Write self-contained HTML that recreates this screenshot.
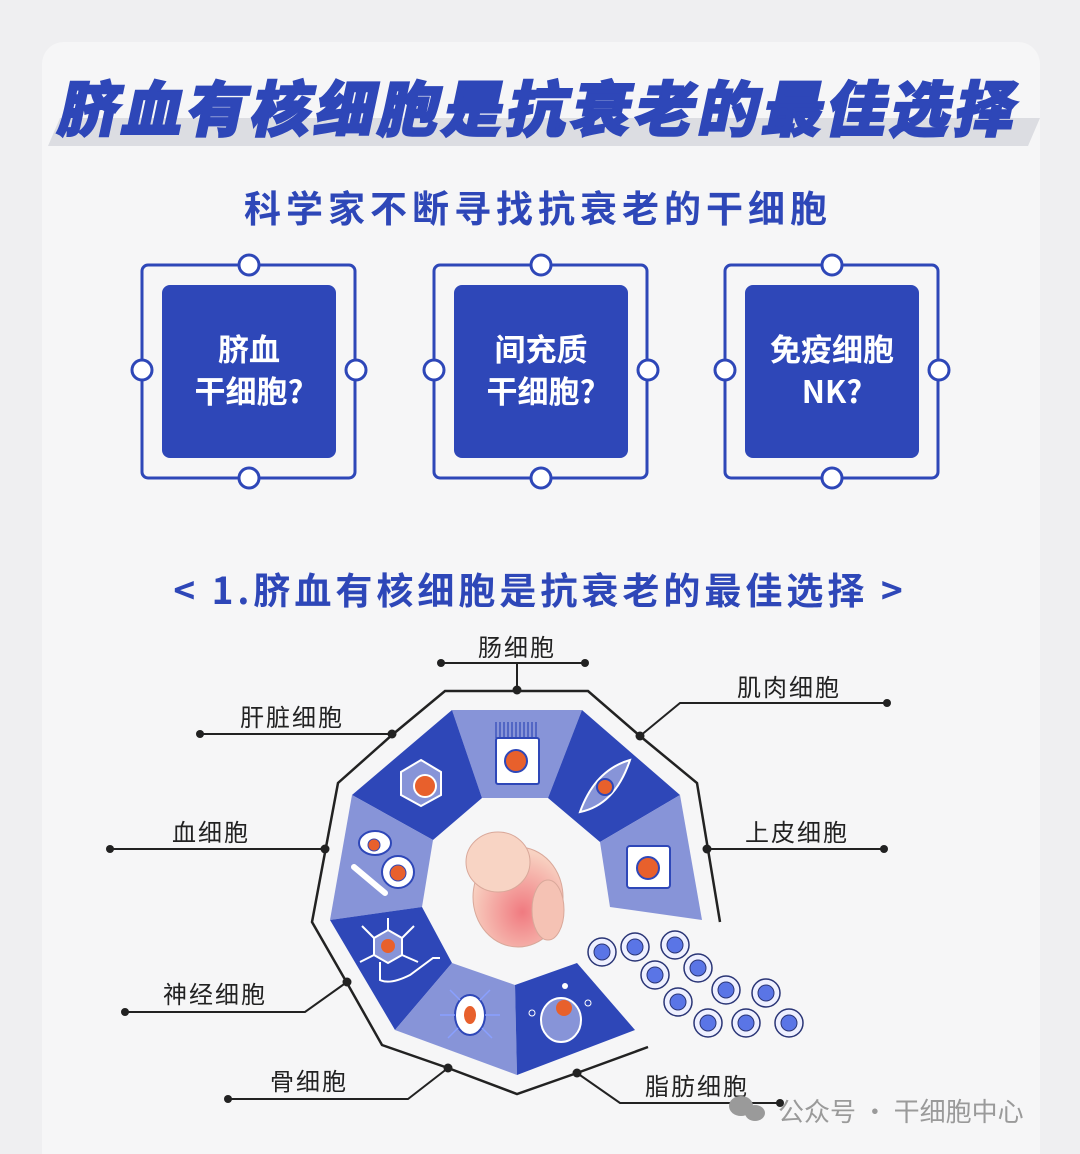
<!DOCTYPE html>
<html><head><meta charset="utf-8"><style>
html,body{margin:0;padding:0;background:#efeff1;}
body{width:1080px;height:1154px;overflow:hidden;position:relative;font-family:"Liberation Sans","Noto Sans CJK SC",sans-serif;}
</style></head><body>
<svg width="1080" height="1154" viewBox="0 0 1080 1154" xmlns="http://www.w3.org/2000/svg" style="position:absolute;left:0;top:0">
<rect x="42" y="42" width="998" height="1140" rx="22" fill="#f6f6f7"/>
<polygon points="60,118 1040,118 1028,146 48,146" fill="#dcdde2"/>
<text x="540" y="131" text-anchor="middle" font-size="60" font-weight="900" fill="#2e47b8" stroke="#2e47b8" stroke-width="2" font-family="'Noto Sans CJK SC',sans-serif" transform="skewX(-12) translate(24,0)" letter-spacing="4">脐血有核细胞是抗衰老的最佳选择</text>
<text x="538" y="222" text-anchor="middle" font-size="37" font-weight="700" fill="#2e47b8" font-family="'Noto Sans CJK SC',sans-serif" letter-spacing="5">科学家不断寻找抗衰老的干细胞</text>
<g font-family="'Noto Sans CJK SC',sans-serif" font-weight="700" fill="#fff" font-size="31" text-anchor="middle">
<g transform="translate(0,0)">
<rect x="142" y="265" width="213" height="213" rx="6" fill="none" stroke="#2e47b8" stroke-width="3"/>
<rect x="162" y="285" width="174" height="173" rx="8" fill="#2e47b8"/>
<circle cx="249" cy="265" r="10" fill="#fff" stroke="#2e47b8" stroke-width="3"/><circle cx="249" cy="478" r="10" fill="#fff" stroke="#2e47b8" stroke-width="3"/>
<circle cx="142" cy="370" r="10" fill="#fff" stroke="#2e47b8" stroke-width="3"/><circle cx="356" cy="370" r="10" fill="#fff" stroke="#2e47b8" stroke-width="3"/>
<text x="249" y="361">脐血</text><text x="249" y="403">干细胞?</text></g>
<g transform="translate(292,0)">
<rect x="142" y="265" width="213" height="213" rx="6" fill="none" stroke="#2e47b8" stroke-width="3"/>
<rect x="162" y="285" width="174" height="173" rx="8" fill="#2e47b8"/>
<circle cx="249" cy="265" r="10" fill="#fff" stroke="#2e47b8" stroke-width="3"/><circle cx="249" cy="478" r="10" fill="#fff" stroke="#2e47b8" stroke-width="3"/>
<circle cx="142" cy="370" r="10" fill="#fff" stroke="#2e47b8" stroke-width="3"/><circle cx="356" cy="370" r="10" fill="#fff" stroke="#2e47b8" stroke-width="3"/>
<text x="249" y="361">间充质</text><text x="249" y="403">干细胞?</text></g>
<g transform="translate(583,0)">
<rect x="142" y="265" width="213" height="213" rx="6" fill="none" stroke="#2e47b8" stroke-width="3"/>
<rect x="162" y="285" width="174" height="173" rx="8" fill="#2e47b8"/>
<circle cx="249" cy="265" r="10" fill="#fff" stroke="#2e47b8" stroke-width="3"/><circle cx="249" cy="478" r="10" fill="#fff" stroke="#2e47b8" stroke-width="3"/>
<circle cx="142" cy="370" r="10" fill="#fff" stroke="#2e47b8" stroke-width="3"/><circle cx="356" cy="370" r="10" fill="#fff" stroke="#2e47b8" stroke-width="3"/>
<text x="249" y="361">免疫细胞</text><text x="249" y="403">NK?</text></g>
</g>
<text x="540" y="604" text-anchor="middle" font-size="37" font-weight="700" fill="#2e47b8" font-family="'Noto Sans CJK SC',sans-serif" letter-spacing="4">&lt; 1.脐血有核细胞是抗衰老的最佳选择 &gt;</text>

<polyline points="720,922 697,783 640,736 588,691 445,691 392,735 338,783 312,922 347,983 382,1045 448,1068 517,1094 577,1073 648,1047" fill="none" stroke="#222" stroke-width="2.5"/>
<g>
<polygon points="452,710 582,710 548,798 482,798" fill="#8794d8"/>
<polygon points="582,710 680,795 600,842 548,798" fill="#2e47b8"/>
<polygon points="680,795 702,920 610,907 600,842" fill="#8794d8"/>
<polygon points="452,710 482,798 433,840 352,795" fill="#2e47b8"/>
<polygon points="352,795 433,840 422,907 330,920" fill="#8794d8"/>
<polygon points="330,920 422,907 452,963 395,1030" fill="#2e47b8"/>
<polygon points="452,963 515,985 517,1075 395,1030" fill="#8794d8"/>
<polygon points="515,985 577,963 635,1030 517,1075" fill="#2e47b8"/>
</g>
<rect x="496" y="738" width="43" height="46" rx="2" fill="#fff" stroke="#2e47b8" stroke-width="2"/>
<g stroke="#2e47b8" stroke-width="1.2"><line x1="496" y1="722" x2="496" y2="738"/><line x1="500" y1="722" x2="500" y2="738"/><line x1="504" y1="722" x2="504" y2="738"/><line x1="508" y1="722" x2="508" y2="738"/><line x1="512" y1="722" x2="512" y2="738"/><line x1="516" y1="722" x2="516" y2="738"/><line x1="520" y1="722" x2="520" y2="738"/><line x1="524" y1="722" x2="524" y2="738"/><line x1="528" y1="722" x2="528" y2="738"/><line x1="532" y1="722" x2="532" y2="738"/><line x1="536" y1="722" x2="536" y2="738"/></g>
<circle cx="516" cy="761" r="11" fill="#e8602c" stroke="#2e47b8" stroke-width="2"/>
<polygon points="421,760 441,772 441,795 421,806 401,795 401,772" fill="#8794d8" stroke="#fff" stroke-width="2"/>
<circle cx="425" cy="786" r="11" fill="#e8602c" stroke="#fff" stroke-width="2"/>
<path d="M580,812 Q595,770 630,760 Q615,805 580,812Z" fill="#8794d8" stroke="#fff" stroke-width="2"/>
<circle cx="605" cy="787" r="8" fill="#e8602c" stroke="#2e47b8" stroke-width="2"/>
<rect x="627" y="846" width="43" height="42" rx="3" fill="#fff" stroke="#2e47b8" stroke-width="2"/>
<circle cx="648" cy="868" r="11" fill="#e8602c" stroke="#2e47b8" stroke-width="2"/>
<ellipse cx="375" cy="843" rx="16" ry="12" fill="#fff" stroke="#2e47b8" stroke-width="2"/>
<circle cx="374" cy="845" r="6" fill="#e8602c" stroke="#2e47b8" stroke-width="1"/>
<circle cx="398" cy="872" r="16" fill="#fff" stroke="#2e47b8" stroke-width="2"/>
<circle cx="398" cy="873" r="8" fill="#e8602c" stroke="#2e47b8" stroke-width="1"/>
<line x1="354" y1="867" x2="385" y2="893" stroke="#fff" stroke-width="6" stroke-linecap="round"/>
<g stroke="#fff" stroke-width="2" fill="none">
<polygon points="388,930 402,938 402,955 388,963 374,955 374,938" fill="#8794d8"/>
<path d="M380,962 L380,980 Q390,985 410,975 L433,958 L440,958"/>
<path d="M374,938 L362,926 M402,938 L414,926 M374,955 L360,962 M402,955 L418,962 M388,930 L388,918"/>
</g>
<circle cx="388" cy="946" r="7" fill="#e8602c"/>
<ellipse cx="470" cy="1015" rx="15" ry="20" fill="#fff" stroke="#2e47b8" stroke-width="2"/>
<ellipse cx="470" cy="1015" rx="6" ry="9" fill="#e8602c"/>
<g stroke="#8aa0ff" stroke-width="1.5" fill="none"><path d="M460,1000 L450,990 M480,1000 L490,990 M458,1028 L448,1038 M482,1028 L492,1038 M455,1015 L440,1015 M485,1015 L500,1015"/></g>
<ellipse cx="561" cy="1020" rx="20" ry="22" fill="#8794d8" stroke="#fff" stroke-width="2"/>
<circle cx="564" cy="1008" r="8" fill="#e8602c"/>
<circle cx="565" cy="986" r="3" fill="#fff"/><circle cx="532" cy="1013" r="3" fill="none" stroke="#fff"/><circle cx="588" cy="1003" r="3" fill="none" stroke="#fff"/>
<defs><radialGradient id="f" cx="0.55" cy="0.65" r="0.6"><stop offset="0" stop-color="#f07a80"/><stop offset="1" stop-color="#f8d2c2"/></radialGradient></defs>
<ellipse cx="518" cy="897" rx="45" ry="50" fill="url(#f)" stroke="#d9a89a"/>
<ellipse cx="498" cy="862" rx="32" ry="30" fill="#f8d4c4" stroke="#d9a89a"/>
<ellipse cx="548" cy="910" rx="16" ry="30" fill="#f5c2b4" stroke="#d9a89a"/>
<g fill="#eef0ff" stroke="#2a3576" stroke-width="1.5">
<circle cx="602" cy="952" r="14"/><circle cx="635" cy="947" r="14"/><circle cx="675" cy="945" r="14"/><circle cx="655" cy="975" r="14"/><circle cx="698" cy="968" r="14"/><circle cx="678" cy="1002" r="14"/><circle cx="726" cy="990" r="14"/><circle cx="766" cy="993" r="14"/><circle cx="708" cy="1023" r="14"/><circle cx="746" cy="1023" r="14"/><circle cx="789" cy="1023" r="14"/>
</g>
<g fill="#5a75e6" stroke="#2a3576" stroke-width="1">
<circle cx="602" cy="952" r="8"/><circle cx="635" cy="947" r="8"/><circle cx="675" cy="945" r="8"/><circle cx="655" cy="975" r="8"/><circle cx="698" cy="968" r="8"/><circle cx="678" cy="1002" r="8"/><circle cx="726" cy="990" r="8"/><circle cx="766" cy="993" r="8"/><circle cx="708" cy="1023" r="8"/><circle cx="746" cy="1023" r="8"/><circle cx="789" cy="1023" r="8"/>
</g>
<g stroke="#222" stroke-width="2" fill="none">
<line x1="441" y1="663" x2="585" y2="663"/><line x1="517" y1="663" x2="517" y2="691"/>
<line x1="200" y1="734" x2="392" y2="734"/>
<polyline points="887,703 680,703 640,736"/>
<line x1="110" y1="849" x2="325" y2="849"/>
<line x1="707" y1="849" x2="884" y2="849"/>
<polyline points="125,1012 305,1012 347,982"/>
<polyline points="228,1099 408,1099 448,1068"/>
<polyline points="577,1073 620,1103 780,1103"/>
</g>
<g fill="#222">
<circle cx="441" cy="663" r="4"/><circle cx="585" cy="663" r="4"/><circle cx="517" cy="690" r="4.5"/>
<circle cx="200" cy="734" r="4"/><circle cx="392" cy="734" r="4.5"/>
<circle cx="887" cy="703" r="4"/><circle cx="640" cy="736" r="4.5"/>
<circle cx="110" cy="849" r="4"/><circle cx="325" cy="849" r="4.5"/>
<circle cx="707" cy="849" r="4.5"/><circle cx="884" cy="849" r="4"/>
<circle cx="125" cy="1012" r="4"/><circle cx="347" cy="982" r="4.5"/>
<circle cx="228" cy="1099" r="4"/><circle cx="448" cy="1068" r="4.5"/>
<circle cx="577" cy="1073" r="4.5"/><circle cx="780" cy="1103" r="4"/>
</g>
<g font-size="24" fill="#222" font-family="'Noto Sans CJK SC',sans-serif" letter-spacing="2">
<text x="517" y="656" text-anchor="middle">肠细胞</text>
<text x="240" y="726">肝脏细胞</text>
<text x="737" y="696">肌肉细胞</text>
<text x="172" y="841">血细胞</text>
<text x="745" y="841">上皮细胞</text>
<text x="163" y="1003">神经细胞</text>
<text x="270" y="1090">骨细胞</text>
<text x="645" y="1095">脂肪细胞</text>
</g>
<g fill="#9a9a9a"><ellipse cx="741" cy="1106" rx="12" ry="10"/><ellipse cx="755" cy="1113" rx="10" ry="8"/></g>
<text x="778" y="1121" font-size="26" fill="#9a9a9a" font-family="'Noto Sans CJK SC',sans-serif">公众号 · 干细胞中心</text>
</svg>
</body></html>
